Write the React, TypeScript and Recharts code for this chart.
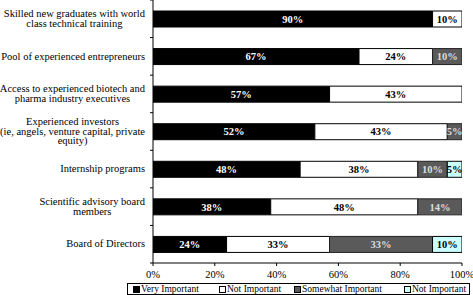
import { BarChart, Bar, XAxis, YAxis, LabelList } from 'recharts';

const categories = [
  'Skilled new graduates with world\nclass technical training',
  'Pool of experienced entrepreneurs',
  'Access to experienced biotech and\npharma industry executives',
  'Experienced investors\n(ie, angels, venture capital, private\nequity)',
  'Internship programs',
  'Scientific advisory board\nmembers',
  'Board of Directors',
];

// share of respondents, in percent
const veryImportant = [90.48, 66.67, 57.14, 52.38, 47.62, 38.1, 23.81];
const notImportant = [9.52, 23.81, 42.86, 42.86, 38.1, 47.62, 33.33];
const somewhatImportant = [null, 9.52, null, 4.76, 9.52, 14.29, 33.33];
const notImportantB = [null, null, null, null, 4.76, null, 9.52];

const xTicks = [0, 20, 40, 60, 80, 100];

const legendItems = [
  { label: 'Very Important', color: '#000000', left: 5 },
  { label: 'Not Important', color: '#ffffff', left: 91 },
  { label: 'Somewhat Important', color: '#5a5a5a', left: 166 },
  { label: 'Not Important', color: '#ccffff', left: 276 },
];

const data = categories.map((name, i) => ({
  name,
  very: veryImportant[i],
  not: notImportant[i],
  somewhat: somewhatImportant[i],
  notB: notImportantB[i],
}));

const FONT = '"Liberation Serif", "Times New Roman", serif';
const AXIS_X = 153;
const PLOT_H = 263;
const BAND = PLOT_H / categories.length;

const pct = (v: any) => (v ? `${Math.round(Number(v))}%` : '');

function CategoryTick(props: any) {
  const { y, payload, index } = props;
  return (
    <g>
      {index === 0 && (
        <line x1={AXIS_X - 3} x2={AXIS_X} y1={y - BAND / 2} y2={y - BAND / 2} stroke="#000" />
      )}
      <line x1={AXIS_X - 3} x2={AXIS_X} y1={y + BAND / 2} y2={y + BAND / 2} stroke="#000" />
      <foreignObject x={-10} y={y - 20} width={155} height={40}>
        <div
          style={{
            display: 'flex',
            height: '100%',
            alignItems: 'center',
            justifyContent: 'flex-end',
            fontFamily: FONT,
            fontSize: 10.5,
            lineHeight: '9.5px',
            color: '#000',
          }}
        >
          <div style={{ textAlign: 'center', whiteSpace: 'pre-line' }}>{payload.value}</div>
        </div>
      </foreignObject>
    </g>
  );
}

const labelStyle = { fontFamily: FONT, fontSize: 10.5, fontWeight: 'bold' as const };

export default function App() {
  return (
    <div style={{ position: 'absolute', left: 0, top: 0, width: 473, height: 295, background: '#fff' }}>
      <BarChart
        width={473}
        height={295}
        data={data}
        layout="vertical"
        margin={{ top: 0, right: 11, left: 0, bottom: 18 }}
        barSize={16}
      >
        <XAxis
          type="number"
          domain={[0, 100]}
          ticks={xTicks}
          tickFormatter={(v) => `${v}%`}
          height={14}
          tickSize={3}
          tickMargin={5}
          stroke="#000"
          tick={{ fill: '#000', fontFamily: FONT, fontSize: 10.5 }}
          interval={0}
          allowDataOverflow
        />
        <YAxis
          type="category"
          dataKey="name"
          width={AXIS_X}
          stroke="#000"
          tickLine={false}
          tick={<CategoryTick />}
          interval={0}
        />
        <Bar dataKey="very" stackId="a" fill="#000000" stroke="#000" isAnimationActive={false}>
          <LabelList dataKey="very" position="center" formatter={pct} fill="#ffffff" style={labelStyle} />
        </Bar>
        <Bar dataKey="not" stackId="a" fill="#ffffff" stroke="#000" isAnimationActive={false}>
          <LabelList dataKey="not" position="center" formatter={pct} fill="#000000" style={labelStyle} />
        </Bar>
        <Bar dataKey="somewhat" stackId="a" fill="#5a5a5a" stroke="#222" isAnimationActive={false}>
          <LabelList dataKey="somewhat" position="center" formatter={pct} fill="#dddddd" style={labelStyle} />
        </Bar>
        <Bar dataKey="notB" stackId="a" fill="#ccffff" stroke="#000" isAnimationActive={false}>
          <LabelList dataKey="notB" position="center" formatter={pct} fill="#000000" style={labelStyle} />
        </Bar>
      </BarChart>
      <div
        style={{
          position: 'absolute',
          left: 127,
          top: 283,
          width: 341,
          height: 10,
          border: '1px solid #000',
          fontFamily: FONT,
          fontSize: 9.5,
          lineHeight: '10px',
          color: '#000',
        }}
      >
        {legendItems.map((item, i) => (
          <div key={i} style={{ position: 'absolute', left: item.left, top: 0, display: 'flex', alignItems: 'center', whiteSpace: 'nowrap' }}>
            <span
              style={{
                display: 'inline-block',
                width: 5,
                height: 5,
                background: item.color,
                border: '1px solid #000',
                marginRight: 1,
              }}
            />
            <span>{item.label}</span>
          </div>
        ))}
      </div>
    </div>
  );
}
